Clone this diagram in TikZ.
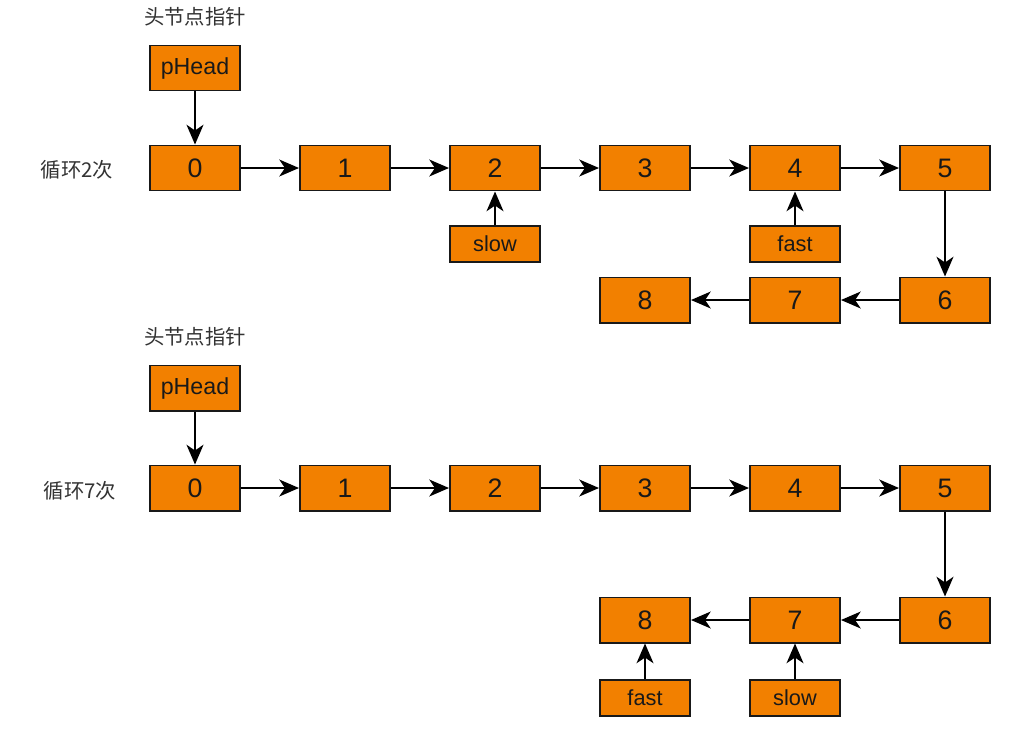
\documentclass[tikz,border=0pt]{standalone}
\usepackage{fontspec}
\setmainfont{Liberation Sans}
\newfontfamily\cjk{Noto Sans CJK SC}
\usetikzlibrary{arrows.meta, positioning}
\definecolor{box_orange}{RGB}{242,128,0}
\tikzset{
    box_num/.style={
        rectangle, draw=black!90, line width=1.4pt, fill=box_orange,
        minimum width=2.25cm, minimum height=1.125cm, inner sep=0pt,
        font=\fontsize{19}{21}\selectfont, text=black!90
    },
    box_ptr/.style={
        box_num, minimum height=0.9cm, font=\fontsize{15.5}{17}\selectfont
    },
    box_head/.style={
        box_num, font=\fontsize{16.5}{18}\selectfont
    },
    link_arrow/.style={
        -{Stealth[length=14pt, width=12pt, inset=4pt]}, line width=1.4pt, draw=black
    },
    cn_lbl/.style={
        font=\cjk\fontsize{14.5}{16}\selectfont, text=black!80, inner sep=0pt
    }
}

\begin{document}
\begin{tikzpicture}[x=0.025cm, y=-0.025cm]
    \useasboundingbox[fill=white] (0,0) rectangle (1024,739);

    % loop 2
    \node[cn_lbl] (title_a) at (195, 17) {头节点指针};
    \node[cn_lbl] (loop_a) at (77, 170) {循环2次};
    \node[box_head] (head_a) at (195, 68) {pHead};

    \node[box_num] (a0) at (195, 168) {0};
    \node[box_num] (a1) at (345, 168) {1};
    \node[box_num] (a2) at (495, 168) {2};
    \node[box_num] (a3) at (645, 168) {3};
    \node[box_num] (a4) at (795, 168) {4};
    \node[box_num] (a5) at (945, 168) {5};
    \node[box_num] (a6) at (945, 300) {6};
    \node[box_num] (a7) at (795, 300) {7};
    \node[box_num] (a8) at (645, 300) {8};

    \node[box_ptr] (slow_a) at (495, 244) {slow};
    \node[box_ptr] (fast_a) at (795, 244) {fast};

    \draw[link_arrow] (head_a) -- (a0);
    \draw[link_arrow] (a0) -- (a1);
    \draw[link_arrow] (a1) -- (a2);
    \draw[link_arrow] (a2) -- (a3);
    \draw[link_arrow] (a3) -- (a4);
    \draw[link_arrow] (a4) -- (a5);
    \draw[link_arrow] (a5) -- (a6);
    \draw[link_arrow] (a6) -- (a7);
    \draw[link_arrow] (a7) -- (a8);
    \draw[link_arrow] (slow_a) -- (a2);
    \draw[link_arrow] (fast_a) -- (a4);

    % loop 7
    \node[cn_lbl] (title_b) at (195, 337) {头节点指针};
    \node[cn_lbl] (loop_b) at (80, 491) {循环7次};
    \node[box_head] (head_b) at (195, 388) {pHead};

    \node[box_num] (b0) at (195, 488) {0};
    \node[box_num] (b1) at (345, 488) {1};
    \node[box_num] (b2) at (495, 488) {2};
    \node[box_num] (b3) at (645, 488) {3};
    \node[box_num] (b4) at (795, 488) {4};
    \node[box_num] (b5) at (945, 488) {5};
    \node[box_num] (b6) at (945, 620) {6};
    \node[box_num] (b7) at (795, 620) {7};
    \node[box_num] (b8) at (645, 620) {8};

    \node[box_ptr] (fast_b) at (645, 698) {fast};
    \node[box_ptr] (slow_b) at (795, 698) {slow};

    \draw[link_arrow] (head_b) -- (b0);
    \draw[link_arrow] (b0) -- (b1);
    \draw[link_arrow] (b1) -- (b2);
    \draw[link_arrow] (b2) -- (b3);
    \draw[link_arrow] (b3) -- (b4);
    \draw[link_arrow] (b4) -- (b5);
    \draw[link_arrow] (b5) -- (b6);
    \draw[link_arrow] (b6) -- (b7);
    \draw[link_arrow] (b7) -- (b8);
    \draw[link_arrow] (fast_b) -- (b8);
    \draw[link_arrow] (slow_b) -- (b7);

\end{tikzpicture}
\end{document}
